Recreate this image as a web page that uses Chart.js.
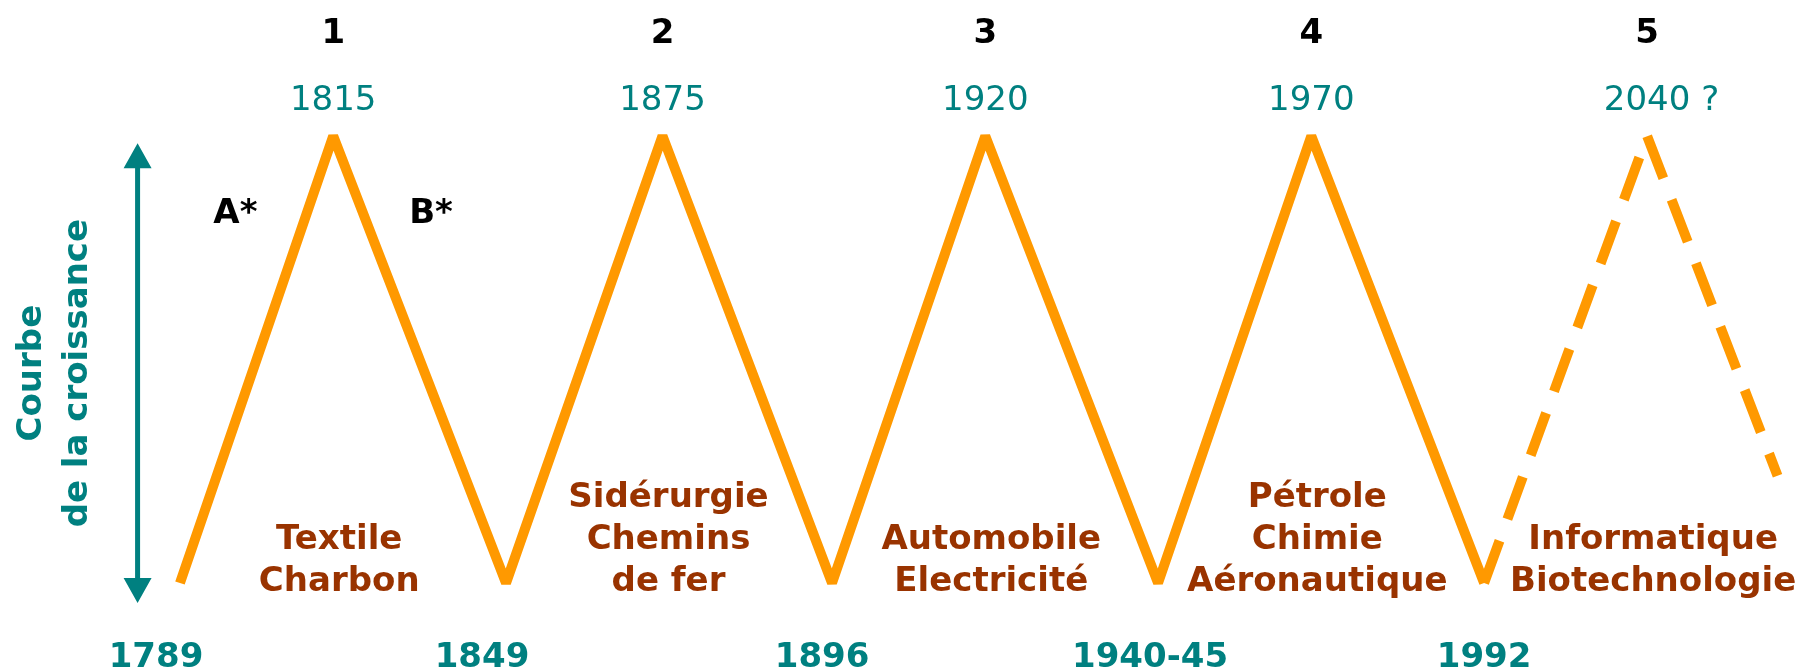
<!DOCTYPE html>
<html lang="fr">
<head>
<meta charset="utf-8">
<title>Cycles de Kondratiev</title>
<script src="https://cdn.jsdelivr.net/npm/chart.js@4.4.1/dist/chart.umd.min.js"></script>
<style>
    html, body { margin: 0; padding: 0; background: #fff; }
    #wrap { width: 1816px; height: 669px; position: relative; }
</style>
</head>
<body>
<div id="wrap"><canvas id="cycles"></canvas></div>
<script>
/* Long waves of growth: trough -> peak -> trough, with a forecast fifth wave */

// position of each trough / peak along the time axis (one unit = one cycle)
const troughX = [0, 1, 2, 3, 4];
const peakX = [0.47, 1.48, 2.47, 3.47, 4.50];
const troughLevel = [0, 0, 0, 0, 0];
const peakLevel = [100, 100, 100, 100, 100];
const forecastEndX = 4.90;
const forecastEndLevel = 24;

const waveNumbers = ['1', '2', '3', '4', '5'];
const peakYears = ['1815', '1875', '1920', '1970', '2040 ?'];
const troughYears = ['1789', '1849', '1896', '1940-45', '1992'];
const sectors = [
    ['Textile', 'Charbon'],
    ['Sidérurgie', 'Chemins', 'de fer'],
    ['Automobile', 'Electricité'],
    ['Pétrole', 'Chimie', 'Aéronautique'],
    ['Informatique', 'Biotechnologie']
];
const phaseLabels = ['A*', 'B*'];
const axisTitle = ['Courbe', 'de la croissance'];

const TEAL = '#008080';
const BROWN = '#993300';
const ORANGE = '#FF9900';
const FONT = "'DejaVu Sans', Verdana, sans-serif";

// solid part: first four full waves
const solidPoints = [];
for (let i = 0; i < 4; i++) {
    solidPoints.push({ x: troughX[i], y: troughLevel[i] });
    solidPoints.push({ x: peakX[i], y: peakLevel[i] });
}
solidPoints.push({ x: troughX[4], y: troughLevel[4] });

// dashed part: the expected fifth wave
const forecastPoints = [
    { x: troughX[4], y: troughLevel[4] },
    { x: peakX[4], y: peakLevel[4] },
    { x: forecastEndX, y: forecastEndLevel }
];

const overlay = {
    id: 'overlay',
    afterDatasetsDraw(chart) {
        const { ctx, scales: { x, y } } = chart;
        const top = y.getPixelForValue(100);
        const bottom = y.getPixelForValue(0);
        ctx.save();
        ctx.textAlign = 'center';
        ctx.textBaseline = 'alphabetic';

        // wave numbers
        ctx.fillStyle = '#000';
        ctx.font = `bold 34px ${FONT}`;
        waveNumbers.forEach((n, i) => ctx.fillText(n, x.getPixelForValue(peakX[i]), top - 93));

        // years of the peaks (centred on the four digits)
        ctx.fillStyle = TEAL;
        ctx.font = `34px ${FONT}`;
        ctx.textAlign = 'left';
        peakYears.forEach((t, i) => {
            const w = ctx.measureText(t.slice(0, 4)).width;
            ctx.fillText(t, x.getPixelForValue(peakX[i]) - w / 2, top - 26);
        });

        // years of the troughs
        ctx.textAlign = 'center';
        ctx.font = `bold 34px ${FONT}`;
        const nudge = [-24, -24, -10, -8, 0];
        troughYears.forEach((t, i) => {
            ctx.fillText(t, x.getPixelForValue(troughX[i]) + nudge[i], bottom + 84);
        });

        // leading sectors, bottom aligned under each wave
        ctx.fillStyle = BROWN;
        sectors.forEach((lines, i) => {
            const cx = x.getPixelForValue(peakX[i]) + 6;
            lines.forEach((line, j) => {
                ctx.fillText(line, cx, bottom + 8 - (lines.length - 1 - j) * 42);
            });
        });

        // phase A (growth) and B (decline) of the first wave
        ctx.fillStyle = '#000';
        ctx.fillText(phaseLabels[0], x.getPixelForValue(0.17), top + 87);
        ctx.fillText(phaseLabels[1], x.getPixelForValue(0.77), top + 87);

        // double arrow
        const ax = x.getPixelForValue(-0.13);
        const aTop = y.getPixelForValue(98.4);
        const aBot = y.getPixelForValue(-4.5);
        ctx.strokeStyle = TEAL;
        ctx.fillStyle = TEAL;
        ctx.lineWidth = 5;
        ctx.beginPath();
        ctx.moveTo(ax, aTop + 20);
        ctx.lineTo(ax, aBot - 20);
        ctx.stroke();
        ctx.beginPath();
        ctx.moveTo(ax, aTop);
        ctx.lineTo(ax - 14, aTop + 25);
        ctx.lineTo(ax + 14, aTop + 25);
        ctx.closePath();
        ctx.moveTo(ax, aBot);
        ctx.lineTo(ax - 14, aBot - 25);
        ctx.lineTo(ax + 14, aBot - 25);
        ctx.closePath();
        ctx.fill();

        // rotated axis title
        ctx.translate(55, (aTop + aBot) / 2);
        ctx.rotate(-Math.PI / 2);
        ctx.textBaseline = 'middle';
        ctx.font = `bold 34px ${FONT}`;
        ctx.fillText(axisTitle[0], 0, -23);
        ctx.fillText(axisTitle[1], 0, 23);
        ctx.restore();
    }
};

new Chart(document.getElementById('cycles'), {
    type: 'line',
    data: {
        datasets: [
            {
                label: 'Cycles',
                data: solidPoints,
                borderColor: ORANGE,
                borderWidth: 10,
                borderJoinStyle: 'bevel',
                pointRadius: 0,
                tension: 0,
                fill: false
            },
            {
                label: 'Prévision',
                data: forecastPoints,
                borderColor: ORANGE,
                borderWidth: 10,
                borderJoinStyle: 'bevel',
                borderDash: [45, 23],
                pointRadius: 0,
                tension: 0,
                fill: false
            }
        ]
    },
    options: {
        responsive: true,
        maintainAspectRatio: false,
        animation: false,
        layout: { padding: 0 },
        scales: {
            x: { type: 'linear', display: false, min: -0.552, max: 5.018 },
            y: { display: false, min: -19.24, max: 130.43 }
        },
        plugins: {
            legend: { display: false },
            tooltip: { enabled: false }
        }
    },
    plugins: [overlay]
});
</script>
</body>
</html>
